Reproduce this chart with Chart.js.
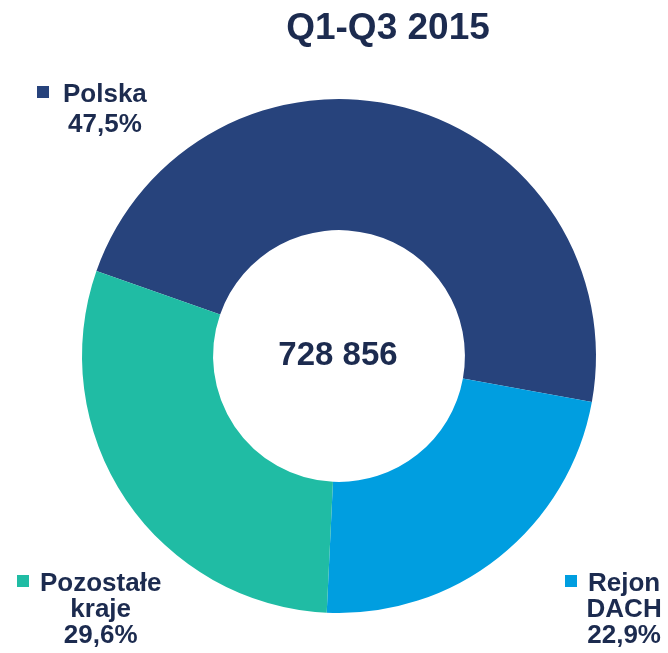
<!DOCTYPE html>
<html>
<head>
<meta charset="utf-8">
<script src="https://cdn.jsdelivr.net/npm/chart.js@4.4.0/dist/chart.umd.min.js"></script>
<style>
	body { margin: 0; background: #ffffff; }
	#wrap { width: 668px; height: 653px; position: relative; }
</style>
</head>
<body>
<div id="wrap"><canvas id="salesChart"></canvas></div>
<script>
// data
const chartTitle = "Q1-Q3 2015";
const totalValue = "728 856";
const categories = ["Polska", "Rejon DACH", "Pozostałe kraje"];
const labelLines = [["Polska"], ["Rejon", "DACH"], ["Pozostałe", "kraje"]];
const shares = [47.5, 22.9, 29.6];
const sliceColors = ["#27437c", "#009ee0", "#20bca4"];

const textColor = "#1c2b4f";
const fontName = "'Liberation Sans', Arial, sans-serif";

// where each corner label sits (left of square, top of square)
const labelPos = [
	{x: 37, y: 86, gap: 26, lineGap: 30},
	{x: 565, y: 575, gap: 23, lineGap: 26},
	{x: 17, y: 575, gap: 23, lineGap: 26}
];

function pct(v){
	return v.toFixed(1).replace(".", ",") + "%";
}

const textPlugin = {
	id: "textPlugin",
	afterDraw(chart){
		let ctx = chart.ctx;
		ctx.save();
		ctx.fillStyle = textColor;
		ctx.textBaseline = "alphabetic";

		// title
		ctx.font = "bold 37px " + fontName;
		ctx.textAlign = "center";
		ctx.fillText(chartTitle, 388, 39);

		// total in the hole
		let meta = chart.getDatasetMeta(0);
		let arc = meta.data[0];
		ctx.font = "bold 33px " + fontName;
		ctx.fillText(totalValue, arc.x - 1, 365);

		// corner labels
		ctx.font = "bold 26px " + fontName;
		for(let i = 0; i < categories.length; i++){
			let p = labelPos[i];
			ctx.fillStyle = sliceColors[i];
			ctx.fillRect(p.x, p.y, 12, 12);
			ctx.fillStyle = textColor;
			let lines = labelLines[i].concat([pct(shares[i])]);
			let tx = p.x + p.gap;
			let baseline = p.y + 16;
			let w = ctx.measureText(lines[0]).width;
			ctx.textAlign = "left";
			ctx.fillText(lines[0], tx, baseline);
			ctx.textAlign = "center";
			for(let j = 1; j < lines.length; j++){
				ctx.fillText(lines[j], tx + w / 2, baseline + j * p.lineGap);
			}
		}
		ctx.restore();
	}
};

let ctx = document.getElementById("salesChart").getContext("2d");
let salesGraph = new Chart(ctx, {
	type: "doughnut",
	data: {
		labels: categories,
		datasets: [{
			data: shares,
			backgroundColor: sliceColors,
			borderWidth: 0
		}]
	},
	options: {
		responsive: true,
		maintainAspectRatio: false,
		animation: false,
		cutout: "49%",
		rotation: -70.7,
		layout: {
			padding: {left: 82, right: 72, top: 99, bottom: 40}
		},
		plugins: {
			legend: { display: false },
			title: { display: false },
			tooltip: { enabled: false }
		}
	},
	plugins: [textPlugin]
});
</script>
</body>
</html>
